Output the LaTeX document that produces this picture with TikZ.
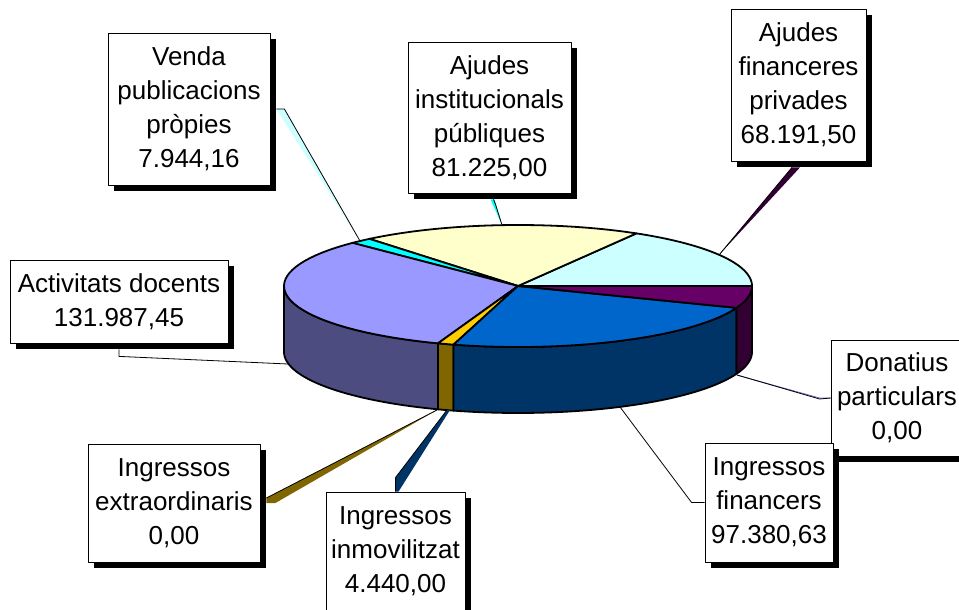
\documentclass[tikz,border=0pt]{standalone}
\usepackage{fontspec}
\setmainfont{Liberation Sans}
\usetikzlibrary{shadows}

\definecolor{docenttop}{HTML}{9999FF}
\definecolor{docentside}{HTML}{4C4C80}
\definecolor{insttop}{HTML}{FFFFCC}
\definecolor{fintop}{HTML}{CCFFFF}
\definecolor{vendatop}{HTML}{00FFFF}
\definecolor{prtop}{HTML}{660066}
\definecolor{prside}{HTML}{330033}
\definecolor{ingtop}{HTML}{0066CC}
\definecolor{ingside}{HTML}{003366}
\definecolor{immtop}{HTML}{FFCC00}
\definecolor{immside}{HTML}{806600}
\definecolor{donline}{HTML}{6666CC}

% top sector and front wall of the pie
\newcommand{\pietop}[3]{\filldraw[fill=#1] (518,286) -- plot[domain=#2:#3] ({518+234*cos(\x)},{286-61*sin(\x)}) -- cycle;}
\newcommand{\pieside}[3]{\filldraw[fill=#1] plot[domain=#2:#3] ({518+234*cos(\x)},{286-61*sin(\x)}) -- plot[domain=#3:#2] ({518+234*cos(\x)},{352-61*sin(\x)}) -- cycle;}

\begin{document}
\begin{tikzpicture}[x=1pt,y=-1pt,line width=1.8pt,line join=round,samples=40,
    lbl/.style={draw,line width=0.8pt,fill=white,align=center,inner sep=0pt,
        font=\fontsize{26}{34}\selectfont,
        drop shadow={shadow xshift=6pt,shadow yshift=-6pt,fill=black,opacity=1}},
    leader/.style={line width=0.8pt}]
    \useasboundingbox (0,0) rectangle (959,610);

    \pieside{docentside}{180}{250}
    \pieside{immside}{250}{254}
    \pieside{ingside}{254}{339}
    \pieside{prside}{339}{360}

    \pietop{fintop}{0}{59.6}
    \pietop{insttop}{59.6}{129.4}
    \pietop{vendatop}{129.4}{135}
    \pietop{docenttop}{135}{250}
    \pietop{immtop}{250}{254}
    \pietop{ingtop}{254}{339}
    \pietop{prtop}{339}{360}

    \coordinate (pV) at (360,241);
    \coordinate (pAI) at (502,225);
    \coordinate (pAF) at (719,255);
    \coordinate (pAD) at (288,364);
    \coordinate (pDP) at (737,375);
    \coordinate (pIF) at (620,407);
    \coordinate (pIE) at (437,410);
    \coordinate (pII) at (447,410);

    \node[lbl,minimum width=162pt,minimum height=152pt] (venda) at (189,109) {Venda\\publicacions\\pròpies\\7.944,16};
    \node[lbl,minimum width=163pt,minimum height=151pt] (ajinst) at (489.5,117.5) {Ajudes\\institucionals\\públiques\\81.225,00};
    \node[lbl,minimum width=135pt,minimum height=152pt] (ajfin) at (798.5,85) {Ajudes\\financeres\\privades\\68.191,50};
    \node[lbl,minimum width=218pt,minimum height=83pt] (activ) at (119,301.5) {Activitats docents\\131.987,45};
    \node[lbl,minimum width=132pt,minimum height=116pt] (donat) at (897,398) {Donatius\\particulars\\0,00};
    \node[lbl,minimum width=128pt,minimum height=119pt] (ingfin) at (769,502.5) {Ingressos\\financers\\97.380,63};
    \node[lbl,minimum width=172pt,minimum height=118pt] (ingext) at (174,503) {Ingressos\\extraordinaris\\0,00};
    \node[lbl,minimum width=139pt,minimum height=119pt] (ingimm) at (395.5,551.5) {Ingressos\\inmovilitzat\\4.440,00};

    \fill[fintop] ([xshift=6pt]venda.east) -- ++(8,0) -- (pV) -- cycle;
    \draw[leader] ([xshift=6pt]venda.east) -- ++(8,0) -- (pV);
    \fill[vendatop] ([xshift=1pt,yshift=-6pt]ajinst.south) -- ++(4,0) -- (pAI) -- cycle;
    \draw[leader] ([xshift=4pt,yshift=-6pt]ajinst.south) -- ++(2,5) -- (pAI);
    \fill[prside] ([xshift=-6.5pt,yshift=-6pt]ajfin.south) -- ++(8,0) -- (pAF) -- cycle;
    \draw[leader] ([xshift=-6.5pt,yshift=-6pt]ajfin.south) -- (pAF);
    \draw[leader] ([yshift=-6pt]activ.south) -- ++(0,7) -- (pAD);
    \draw[leader,donline] (donat.west) -- ++(-11,0) -- ++(-83,-23);
    \draw[leader] (donat.west) -- ++(-11,1) -- (pDP);
    \draw[leader] (ingfin.west) -- ++(-13,0) -- (pIF);
    \fill[immside] ([xshift=6pt,yshift=5pt]ingext.east) -- ++(0,5) -- ++(9,0) -- (pIE) -- cycle;
    \draw[leader] ([xshift=6pt,yshift=5pt]ingext.east) -- (pIE);
    \fill[ingside] (ingimm.north) -- ++(0,-14) -- (pII) -- ++(3,0) -- ([xshift=3pt]ingimm.north) -- cycle;
    \draw[leader] (ingimm.north) -- ++(0,-14) -- (pII);
\end{tikzpicture}
\end{document}
